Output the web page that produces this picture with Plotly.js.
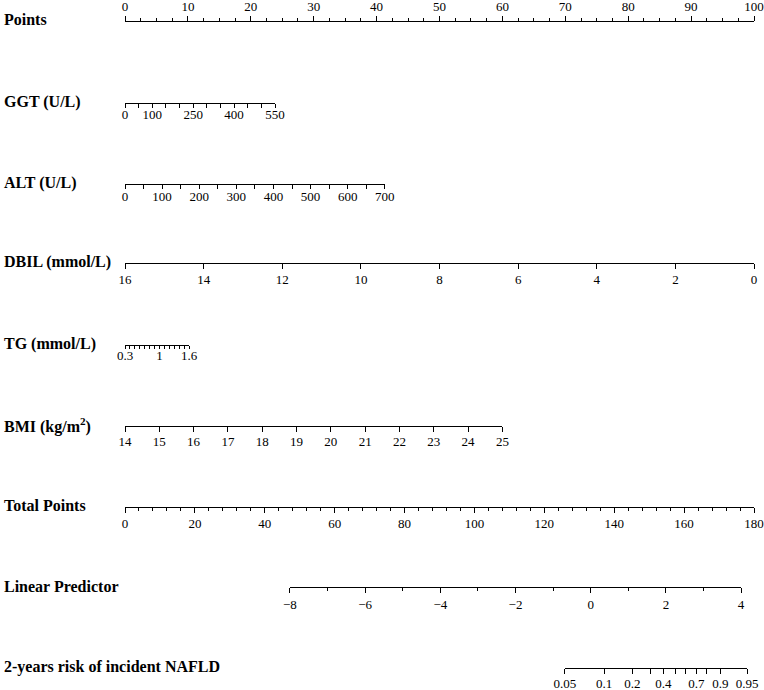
<!DOCTYPE html>
<html>
<head>
<meta charset="utf-8">
<script src="https://cdn.plot.ly/plotly-3.0.1.min.js"></script>
<style>html,body{margin:0;padding:0;background:#fff;}#chart{width:764px;height:690px;}</style>
</head>
<body>
<div id="chart"></div>
<script>
// ---- Data ----
const rowNames = ["Points", "GGT (U/L)", "ALT (U/L)", "DBIL (mmol/L)", "TG (mmol/L)",
  "BMI (kg/m<sup>2</sup>)", "Total Points", "Linear Predictor", "2-years risk of incident NAFLD"];

const pointsTicks = [0,10,20,30,40,50,60,70,80,90,100];
const pointsMinor = [2.5,5,7.5,12.5,15,17.5,22.5,25,27.5,32.5,35,37.5,42.5,45,47.5,52.5,55,57.5,62.5,65,67.5,72.5,75,77.5,82.5,85,87.5,92.5,95,97.5];

const ggtTicks = [0,50,100,150,200,250,300,350,400,450,500,550];
const ggtLabels = ["0","","100","","","250","","","400","","","550"];
const ggtMaxPoints = 23.85;   // points given to GGT = 550

const altTicks = [0,50,100,150,200,250,300,350,400,450,500,550,600,650,700];
const altLabels = ["0","","100","","200","","300","","400","","500","","600","","700"];
const altMaxPoints = 41.3;    // points given to ALT = 700

const dbilTicks = [16,14,12,10,8,6,4,2,0];
const dbilLabels = ["16","14","12","10","8","6","4","2","0"];
const dbilMaxPoints = 100;    // points given to DBIL = 0

const tgTicks = [0.3,0.4,0.5,0.6,0.7,0.8,0.9,1.0,1.1,1.2,1.3,1.4,1.5,1.6];
const tgLabels = ["0.3","","","","","","","1","","","","","","1.6"];
const tgMaxPoints = 10.2;     // points given to TG = 1.6

const bmiTicks = [14,15,16,17,18,19,20,21,22,23,24,25];
const bmiLabels = ["14","15","16","17","18","19","20","21","22","23","24","25"];
const bmiMaxPoints = 60.0;    // points given to BMI = 25

const totalTicks = [0,20,40,60,80,100,120,140,160,180];
const totalMinor = [4,8,12,16,24,28,32,36,44,48,52,56,64,68,72,76,84,88,92,96,104,108,112,116,124,128,132,136,144,148,152,156,164,168,172,176];

const lpTicks = [-8,-6,-4,-2,0,2,4];
const lpMinor = [-7,-5,-3,-1,1,3];
const lpTotalPoints = [47.2, 176.3]; // total points matching LP = -8 and LP = 4

const riskValues = [0.05,0.1,0.2,0.3,0.4,0.5,0.6,0.7,0.8,0.9,0.95];
const riskLabels = ["0.05","0.1","0.2","","0.4","","","0.7","","0.9","0.95"];
const riskTotalPoints = [125.9,137.1,145.2,150.3,154.1,157.5,160.5,163.5,166.5,170.4,178.0];

// ---- Layout helpers ----
const W = 764, H = 690, ML = 125, MR = 10;
const lineY = [20.5, 103, 184, 263, 345, 426, 507, 587, 668]; // px from top
const pos = y => 1 - y / H;
const FONT = "Liberation Serif, Times New Roman, serif";
const tickFont = {family: FONT, size: 13, color: "#000"};

function axis(opts) {
  return Object.assign({
    anchor: "free", side: "bottom", showline: true, linecolor: "#000", linewidth: 1,
    ticks: "outside", ticklen: 5, tickwidth: 1, tickcolor: "#000",
    tickmode: "array", showgrid: false, zeroline: false, tickfont: tickFont,
    ticklabeloverflow: "allow",
    fixedrange: true, automargin: false, tickangle: 0
  }, opts);
}
function minor(vals, len) {
  return {tickmode: "array", tickvals: vals, ticklen: len, tickwidth: 1, tickcolor: "#000", ticks: "outside", showgrid: false};
}

const lpDom = [lpTotalPoints[0] / 180, lpTotalPoints[1] / 180];
const riskDom = [riskTotalPoints[0] / 180, riskTotalPoints[riskTotalPoints.length - 1] / 180];

const layout = {
  width: W, height: H,
  margin: {l: ML, r: MR, t: 0, b: 0, pad: 0},
  paper_bgcolor: "#fff", plot_bgcolor: "rgba(0,0,0,0)",
  showlegend: false,
  yaxis: {range: [0, 1], visible: false, fixedrange: true, domain: [0, 1]},
  xaxis: axis({domain: [0, 1], range: [0, 100], side: "top", position: pos(lineY[0]),
    tickvals: pointsTicks, ticktext: pointsTicks.map(String), ticklen: 5, ticklabelstandoff: -1,
    minor: minor(pointsMinor, 2.5)}),
  xaxis2: axis({domain: [0, ggtMaxPoints / 100], range: [ggtTicks[0], ggtTicks[ggtTicks.length - 1]],
    position: pos(lineY[1]), tickvals: ggtTicks, ticktext: ggtLabels, ticklen: 4, ticklabelstandoff: -5}),
  xaxis3: axis({domain: [0, altMaxPoints / 100], range: [altTicks[0], altTicks[altTicks.length - 1]],
    position: pos(lineY[2]), tickvals: altTicks, ticktext: altLabels, ticklen: 4, ticklabelstandoff: -4}),
  xaxis4: axis({domain: [0, dbilMaxPoints / 100], range: [dbilTicks[0], dbilTicks[dbilTicks.length - 1]],
    position: pos(lineY[3]), tickvals: dbilTicks, ticktext: dbilLabels, ticklabelstandoff: -1}),
  xaxis5: axis({domain: [0, tgMaxPoints / 100], range: [tgTicks[0], tgTicks[tgTicks.length - 1]],
    position: pos(lineY[4]), tickvals: tgTicks, ticktext: tgLabels, ticklen: 3, ticklabelstandoff: -5}),
  xaxis6: axis({domain: [0, bmiMaxPoints / 100], range: [bmiTicks[0], bmiTicks[bmiTicks.length - 1]],
    position: pos(lineY[5]), tickvals: bmiTicks, ticktext: bmiLabels, ticklabelstandoff: -2}),
  xaxis7: axis({domain: [0, 1], range: [0, 180], position: pos(lineY[6]),
    tickvals: totalTicks, ticktext: totalTicks.map(String), ticklabelstandoff: -1,
    minor: minor(totalMinor, 2.5)}),
  xaxis8: axis({domain: lpDom, range: [lpTicks[0], lpTicks[lpTicks.length - 1]], position: pos(lineY[7]),
    tickvals: lpTicks, ticktext: lpTicks.map(v => v < 0 ? "\u2212" + Math.abs(v) : String(v)),
    ticklabelstandoff: 0, minor: minor(lpMinor, 2.5)}),
  xaxis9: axis({domain: riskDom, range: [riskTotalPoints[0], riskTotalPoints[riskTotalPoints.length - 1]],
    position: pos(lineY[8]), tickvals: riskTotalPoints, ticktext: riskLabels, ticklabelstandoff: -2}),
  annotations: rowNames.map((name, i) => ({
    text: "<b>" + name + "</b>", xref: "paper", yref: "paper",
    x: (2 - ML) / (W - ML - MR), y: pos(lineY[i] - 1), xanchor: "left", yanchor: "middle",
    showarrow: false, font: {family: FONT, size: 16, color: "#000"}
  }))
};

// Invisible anchor traces so every axis is built from its data
const axisTicks = [pointsTicks, ggtTicks, altTicks, dbilTicks, tgTicks, bmiTicks, totalTicks, lpTicks, riskTotalPoints];
const data = axisTicks.map((vals, i) => ({
  type: "scatter", mode: "markers", x: vals, y: vals.map(() => 0.5),
  xaxis: i === 0 ? "x" : "x" + (i + 1), yaxis: "y",
  marker: {opacity: 0, size: 1}, hoverinfo: "skip", showlegend: false
}));

Plotly.newPlot("chart", data, layout, {staticPlot: true, displayModeBar: false});
</script>
</body>
</html>
